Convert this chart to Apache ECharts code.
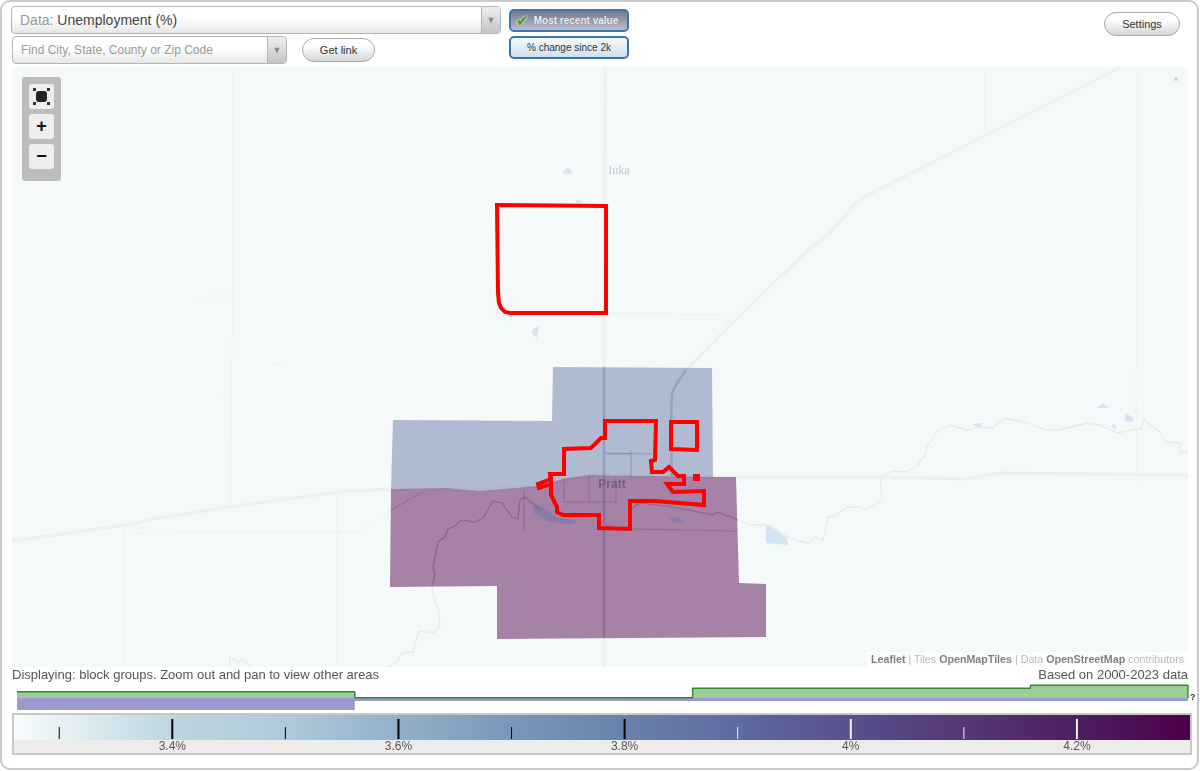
<!DOCTYPE html>
<html>
<head>
<meta charset="utf-8">
<title>Unemployment map</title>
<script src="https://cdn.jsdelivr.net/npm/echarts@6/dist/echarts.min.js"></script>
<style>
    html, body {margin: 0; padding: 0; background: #fff; font-family: "Liberation Sans", Arial, sans-serif;}
    #page {position: relative; width: 1200px; height: 771px; overflow: hidden;}
    #charts {position: absolute; left: 0; top: 0; width: 1200px; height: 771px; z-index: 2;}
    .abs {position: absolute; box-sizing: border-box;}
    #frame {left: 0; top: 0; width: 1199px; height: 770px; border: 2px solid #c9c9c9; border-radius: 10px;}
    .select {background: linear-gradient(#fff 45%, #e6e6e6); border: 1px solid #b5b5b5; border-radius: 4px; color: #999; white-space: nowrap; padding-left: 8px;}
    .arrow {top: 0; bottom: 0; right: 0; width: 19px; border-left: 1px solid #b5b5b5; background: linear-gradient(#eee, #c4c4c4); border-radius: 0 3px 3px 0; color: #888; font-size: 9px; text-align: center;}
    .pill {background: linear-gradient(#fff 30%, #d6d6d6); border: 1px solid #a9a9a9; border-radius: 12px; color: #333; font-size: 11px; text-align: center;}
    .toggle {border: 2px solid #3a76ab; border-radius: 5px; font-size: 10px; text-align: center;}
    .zoombtn {left: 29px; width: 25px; height: 25px; background: #eee; border-radius: 3px; color: #111; font-weight: bold; font-size: 18px; line-height: 24px; text-align: center;}
    .corner {width: 3px; height: 3px; background: #333;}
    #attribution span {color: #808080;}
    #attribution {color: #b9b9b9;}
</style>
</head>
<body>
<div id="page">
    <div id="frame" class="abs"></div>

    <div class="abs select" style="left:11px;top:6px;width:490px;height:28px;font-size:14px;line-height:26px;">Data: <span style="color:#444">Unemployment (%)</span>
        <div class="abs arrow" style="line-height:27px;">&#9660;</div>
    </div>
    <div class="abs select" style="left:12px;top:36px;width:275px;height:28px;font-size:12px;line-height:26px;">Find City, State, County or Zip Code
        <div class="abs arrow" style="line-height:27px;">&#9660;</div>
    </div>
    <div class="abs pill" style="left:302px;top:38px;width:73px;height:24px;line-height:23px;">Get link</div>
    <div class="abs toggle" style="left:509px;top:9px;width:120px;height:23px;line-height:19px;background:linear-gradient(#74768c,#bcbecd);color:#f0f0f4;font-weight:bold;padding-left:14px;text-shadow:0 0 1px #666;">Most recent value
        <span class="abs" style="left:5px;top:0;color:#5c9a35;font-size:15px;text-shadow:0 0 2px #fff,0 0 1px #fff;">&#10004;</span>
    </div>
    <div class="abs toggle" style="left:509px;top:36px;width:120px;height:23px;line-height:19px;background:linear-gradient(#f6f9fc,#cfe0ee);color:#333;">% change since 2k</div>
    <div class="abs pill" style="left:1104px;top:12px;width:76px;height:24px;line-height:23px;">Settings</div>

    <div class="abs" style="left:12px;top:713px;width:1180px;height:42px;border:2px solid #c8c8c8;background:#ececec;"></div>

    <div class="abs" style="left:12px;top:668px;font-size:13px;color:#555;line-height:14px;z-index:3;">Displaying: block groups. Zoom out and pan to view other areas</div>
    <div class="abs" style="right:12px;top:668px;font-size:13px;color:#555;line-height:14px;z-index:3;">Based on 2000-2023 data</div>
    <div class="abs" style="left:1190px;top:692px;font-size:9px;font-weight:bold;color:#333;z-index:3;">?</div>

    <div id="attribution" class="abs" style="left:868px;top:652px;width:320px;height:15px;background:rgba(255,255,255,0.7);font-size:10.7px;line-height:15px;padding-left:3px;z-index:3;white-space:nowrap;"><span style="font-weight:bold">Leaflet</span> | Tiles <span style="font-weight:bold">OpenMapTiles</span> | Data <span style="font-weight:bold">OpenStreetMap</span> contributors</div>

    <div class="abs" style="left:22px;top:77px;width:39px;height:104px;background:#bdbdbd;border-radius:3px;z-index:3;"></div>
    <div class="abs zoombtn" style="top:84px;z-index:3;">
        <div class="abs" style="left:7px;top:7px;width:11px;height:11px;background:#222;border-radius:3px;"></div>
        <div class="abs corner" style="left:4px;top:4px;"></div>
        <div class="abs corner" style="right:4px;top:4px;"></div>
        <div class="abs corner" style="left:4px;bottom:4px;"></div>
        <div class="abs corner" style="right:4px;bottom:4px;"></div>
    </div>
    <div class="abs zoombtn" style="top:114px;z-index:3;">+</div>
    <div class="abs zoombtn" style="top:144px;z-index:3;">&#8722;</div>

    <div id="charts"></div>
</div>
<script>

/* block group shapes and place data, in map units (1 unit = 1 px of the reference) */
var blockGroupValues = [3.85, 4.3];
var blockGroupShapes = [
    [[393, 420], [552, 421], [553, 367], [712, 368], [713, 477], [590, 475], [567, 478], [537, 486], [480, 491], [447, 488], [391, 489]],
    [[391, 489], [447, 488], [480, 491], [537, 486], [567, 478], [590, 475], [713, 477], [736, 477], [739, 583], [766, 584], [766, 637], [497, 639], [497, 586], [390, 587]]
];

var cityOutlines = [
    [[605, 421], [656, 421], [655, 460], [651, 461], [652, 472], [663, 472], [669, 467], [678, 476], [684, 476], [684, 484], [667, 484], [673, 492], [704, 491], [704, 505], [655, 501], [630, 501], [630, 529], [599, 528], [599, 515], [563, 515], [557, 512], [557, 507], [551, 495], [551, 482], [550, 474], [564, 474], [564, 449], [591, 448], [601, 438], [605, 438]],
    [[551, 479], [538, 484], [539, 488], [551, 484]],
    [[671, 422], [697, 422], [697, 450], [671, 449]],
    [[695, 476], [698, 476], [698, 479], [695, 479]],
    [[497, 205], [606, 206], [606, 313], [510, 313], [505, 312], [501, 308], [499, 303], [498, 293]]
];

var highways = [
    [[12, 541], [138, 523], [157, 518], [230, 507], [337, 492], [390, 489], [480, 490], [537, 486], [590, 475], [737, 477], [880, 477], [967, 479], [1000, 473], [1188, 475]],
    [[605, 67], [604, 367], [604, 667]],
    [[1121, 67], [868, 195], [856, 203], [830, 233], [805, 253], [732, 323], [686, 370]]
];

var minorRoads = [
    [[233, 67], [233, 270], [230, 507]],
    [[983, 67], [985, 80], [985, 133]],
    [[1138, 67], [1136, 390], [1137, 485]],
    [[608, 313], [721, 315], [732, 323]],
    [[123, 527], [124, 667]],
    [[130, 533], [358, 532], [422, 490]],
    [[337, 493], [337, 667]],
    [[195, 302], [232, 302]],
    [[207, 294], [232, 294]],
    [[214, 397], [231, 397]],
    [[272, 364], [286, 364]]
];

var streets = [
    [[564, 478], [564, 502], [616, 502], [616, 477]],
    [[589, 476], [589, 502]],
    [[631, 450], [631, 477]],
    [[606, 454], [631, 454]],
    [[631, 529], [737, 531]],
    [[524, 490], [524, 532]],
    [[391, 510], [423, 492]],
    [[605, 453], [652, 454]]
];
var insideRoads = [
    [[604, 367], [604, 638]],
    [[686, 370], [677, 383], [672, 393], [671, 427], [672, 476]]
];

var riversOutside = [
    [[388, 667], [397, 662], [402, 653], [413, 652], [419, 631], [433, 633], [440, 626], [439, 610], [434, 598], [432, 586]],
    [[737, 520], [752, 525], [768, 525], [788, 537], [797, 541], [808, 543], [815, 537], [823, 541], [828, 517], [835, 516], [847, 507], [860, 507], [866, 510], [882, 501], [880, 477], [892, 471], [907, 472], [917, 466], [925, 455], [927, 447], [938, 430], [950, 425], [968, 430], [978, 427], [993, 428], [1005, 418], [1028, 423], [1045, 430], [1058, 430], [1087, 423], [1100, 425], [1117, 433], [1142, 428], [1143, 419], [1160, 432], [1165, 442], [1180, 443], [1180, 453], [1188, 451]],
    [[230, 667], [230, 657], [239, 663], [241, 659], [253, 667]]
];
var riversInside = [
    [[432, 586], [435, 575], [433, 567], [438, 542], [445, 537], [448, 529], [455, 526], [461, 520], [475, 522], [483, 518], [493, 501], [502, 503], [512, 517], [518, 519], [520, 500], [525, 497], [540, 510]],
    [[630, 510], [640, 503], [673, 507], [713, 515], [718, 512], [733, 518], [738, 520]]
];

var lakesOutside = [
    [[766, 526], [770, 526], [787, 538], [788, 545], [766, 543]],
    [[972, 424], [982, 423], [979, 429]],
    [[1097, 408], [1103, 403], [1109, 408]],
    [[1125, 414], [1127, 414], [1134, 418], [1132, 422], [1125, 421]],
    [[1111, 427], [1114, 423], [1117, 429]],
    [[562, 173], [568, 167], [573, 172], [570, 174]],
    [[575, 203], [578, 199], [582, 203]],
    [[532, 330], [539, 325], [537, 338], [533, 335]]
];
var lakesInside = [
    [[533, 509], [536, 505], [541, 506], [548, 511], [553, 515], [560, 518], [570, 519], [577, 522], [574, 524], [563, 524], [555, 522], [548, 522], [540, 516], [534, 513]],
    [[670, 518], [677, 517], [684, 523], [677, 523], [671, 521]],
    [[604, 523], [615, 525], [611, 527], [606, 527]]
];

var placeNames = ['Iuka', 'Pratt'];
var placePositions = [[619, 171], [612, 485]];
var mapDots = [[1176, 79]];

/* legend scale */
var legendRange = [3.26, 4.3];
var rampValues = [3.26, 3.4, 3.5, 3.6, 3.7, 3.8, 3.9, 4, 4.1, 4.2, 4.3];
var rampColors = ['#f7fcfd', '#bdd6e0', '#aecadb', '#92b0c9', '#7a97bb', '#6982ac', '#5f6ba0', '#58508c', '#553875', '#4e1e60', '#4d004b'];
var legendLabels = [3.4, 3.6, 3.8, 4, 4.2];
var minorTicks = [3.3, 3.5, 3.7, 3.9, 4.1];
var majorTicks = [3.4, 3.6, 3.8, 4, 4.2];

/* histogram over the legend */
var binEdges = [3.26, 3.56, 3.86, 4.16, 4.3];
var areaShares = [6.3, 0.3, 9.7, 12.7];
var populationShares = [-12, -3, -3, -3];


/**
 * 取值对应的色带颜色
 *
 * @param {number} value 数值
 * @return {string}
 */
function rampColor(value) {
    for (var i = 1; i < rampValues.length; i++) {
        if (value <= rampValues[i]) {
            var t = (value - rampValues[i - 1]) / (rampValues[i] - rampValues[i - 1]);
            return echarts.color.lerp(t, [rampColors[i - 1], rampColors[i]]);
        }
    }
    return rampColors[rampColors.length - 1];
}

/**
 * 折线路径系列（道路、河流）
 *
 * @param {Array} paths 路径列表
 * @param {Object} style 线样式
 * @param {number} z 层级
 * @return {Array}
 */
function pathSeries(paths, style, z) {
    return paths.map(function (path) {
        return {
            type: 'line',
            data: path,
            xAxisIndex: 0,
            yAxisIndex: 0,
            z: z,
            silent: true,
            showSymbol: false,
            symbol: 'none',
            animation: false,
            lineStyle: style
        };
    });
}

/**
 * 多边形系列
 *
 * @param {Array} shapes 多边形列表
 * @param {Function} styleOf 样式函数
 * @param {number} z 层级
 * @return {Object}
 */
function polygonSeries(shapes, styleOf, z) {
    return {
        type: 'custom',
        xAxisIndex: 0,
        yAxisIndex: 0,
        z: z,
        silent: true,
        animation: false,
        data: shapes.map(function (shape) {
            return shape[0];
        }),
        renderItem: function (params, api) {
            return {
                type: 'polygon',
                shape: {
                    points: shapes[params.dataIndex].map(function (p) {
                        return api.coord(p);
                    })
                },
                style: styleOf(params.dataIndex)
            };
        }
    };
}

/**
 * 色带上的刻度系列
 *
 * @param {Array} ticks 刻度值
 * @param {number} height 刻度高度
 * @param {number} width 刻度宽度
 * @return {Object}
 */
function tickSeries(ticks, height, width) {
    return {
        type: 'custom',
        xAxisIndex: 1,
        yAxisIndex: 1,
        z: 3,
        silent: true,
        animation: false,
        data: ticks.map(function (v) {
            return [v, 0];
        }),
        renderItem: function (params, api) {
            var value = api.value(0);
            var p = api.coord([value, 0]);
            return {
                type: 'rect',
                shape: {x: p[0] - width / 2, y: p[1] - 1 - height, width: width, height: height},
                style: {fill: value >= 3.9 ? '#f4f4f4' : '#000'}
            };
        }
    };
}

/**
 * 直方图阶梯系列
 *
 * @param {Array} shares 每个分箱的值
 * @param {string} lineColor 线色
 * @param {string} fillColor 填充色
 * @param {number} width 线宽
 * @return {Object}
 */
function histSeries(shares, lineColor, fillColor, width) {
    var data = shares.map(function (v, i) {
        return [binEdges[i], v];
    });
    data.push([binEdges[binEdges.length - 1], shares[shares.length - 1]]);
    data.push([binEdges[binEdges.length - 1], 0]);
    return {
        type: 'line',
        step: 'end',
        xAxisIndex: 2,
        yAxisIndex: 2,
        data: data,
        z: 3,
        clip: false,
        silent: true,
        animation: false,
        showSymbol: false,
        symbol: 'none',
        lineStyle: {color: lineColor, width: width},
        areaStyle: {color: fillColor, opacity: 1}
    };
}

var rampStops = rampValues.map(function (v, i) {
    return {
        offset: (v - legendRange[0]) / (legendRange[1] - legendRange[0]),
        color: rampColors[i]
    };
});

var roadCasing = {color: '#e8edef', width: 3};
var roadCore = {color: '#f5f8f9', width: 1};
var thinRoadStyle = {color: '#eef2f3', width: 1};
var riverStyle = {color: '#e5ebed', width: 1.3};
var insideRoadStyle = {color: 'rgba(70,60,100,0.2)', width: 2.5};
var insideStyle = {color: 'rgba(70,50,90,0.25)', width: 1};
var insideRiverStyle = {color: 'rgba(80,60,100,0.38)', width: 1.2};

var series = [].concat(
    pathSeries(highways, roadCasing, 1),
    pathSeries(highways, roadCore, 1),
    pathSeries(minorRoads, thinRoadStyle, 1),
    pathSeries(riversOutside, riverStyle, 1),
    [
        polygonSeries(lakesOutside, function () {
            return {fill: '#d5e4f3'};
        }, 1),
        polygonSeries(blockGroupShapes, function (i) {
            return {fill: rampColor(blockGroupValues[i]), opacity: 0.48};
        }, 2),
        polygonSeries(lakesInside, function () {
            return {fill: '#8a7bab'};
        }, 3)
    ],
    pathSeries(insideRoads, insideRoadStyle, 3),
    pathSeries(streets, insideStyle, 3),
    pathSeries(riversInside, insideRiverStyle, 3),
    [
        polygonSeries(cityOutlines, function () {
            return {fill: 'none', stroke: '#ff0000', lineWidth: 4, lineJoin: 'miter'};
        }, 4),
        {
            type: 'custom',
            xAxisIndex: 0,
            yAxisIndex: 0,
            z: 5,
            silent: true,
            animation: false,
            data: placePositions,
            renderItem: function (params, api) {
                var p = api.coord(placePositions[params.dataIndex]);
                var isTown = params.dataIndex === 1;
                return {
                    type: 'text',
                    style: {
                        x: p[0],
                        y: p[1],
                        text: placeNames[params.dataIndex],
                        align: 'center',
                        verticalAlign: 'middle',
                        fill: isTown ? '#6f5f80' : '#c3c8ce',
                        font: isTown ? 'bold 12px "Liberation Sans"' : '12px "Liberation Serif"'
                    }
                };
            }
        },
        {
            type: 'scatter',
            xAxisIndex: 0,
            yAxisIndex: 0,
            data: mapDots,
            symbolSize: 4,
            silent: true,
            animation: false,
            itemStyle: {color: '#c8ccd2'}
        },
        {
            type: 'custom',
            xAxisIndex: 1,
            yAxisIndex: 1,
            z: 2,
            silent: true,
            animation: false,
            data: [[legendRange[0], 1]],
            renderItem: function (params, api) {
                var start = api.coord([legendRange[0], 1]);
                var end = api.coord([legendRange[1], 0]);
                return {
                    type: 'rect',
                    shape: {x: start[0], y: start[1], width: end[0] - start[0], height: end[1] - start[1]},
                    style: {fill: new echarts.graphic.LinearGradient(0, 0, 1, 0, rampStops)}
                };
            }
        },
        tickSeries(minorTicks, 12, 1),
        tickSeries(majorTicks, 20, 2),
        histSeries(areaShares, '#2f8a33', '#9ccd98', 1.4),
        histSeries(populationShares, '#9c99cc', '#9c99cc', 0)
    ]
);

var chart = echarts.init(document.getElementById('charts'));

chart.setOption({
    animation: false,
    grid: [
        {left: 12, top: 67, width: 1176, height: 600, show: true, backgroundColor: '#f6f9fa', borderWidth: 0},
        {left: 14, top: 715, width: 1176, height: 25},
        {left: 17, top: 685, width: 1171, height: 25}
    ],
    xAxis: [
        {type: 'value', gridIndex: 0, show: false, min: 12, max: 1188},
        {
            type: 'value',
            gridIndex: 1,
            min: legendRange[0],
            max: legendRange[1],
            axisLine: {show: false},
            axisTick: {show: false},
            splitLine: {show: false},
            axisLabel: {
                customValues: legendLabels,
                margin: 0,
                padding: [1, 0, 0, 0],
                color: '#555',
                fontSize: 12,
                fontFamily: 'Liberation Sans',
                showMinLabel: true,
                showMaxLabel: true,
                formatter: function (value) {
                    return value + '%';
                }
            }
        },
        {type: 'value', gridIndex: 2, show: false, min: binEdges[0], max: binEdges[binEdges.length - 1]}
    ],
    yAxis: [
        {type: 'value', gridIndex: 0, show: false, min: 67, max: 667, inverse: true},
        {type: 'value', gridIndex: 1, show: false, min: 0, max: 1},
        {type: 'value', gridIndex: 2, show: false, min: -12, max: 13}
    ],
    series: series
});

</script>
</body>
</html>
